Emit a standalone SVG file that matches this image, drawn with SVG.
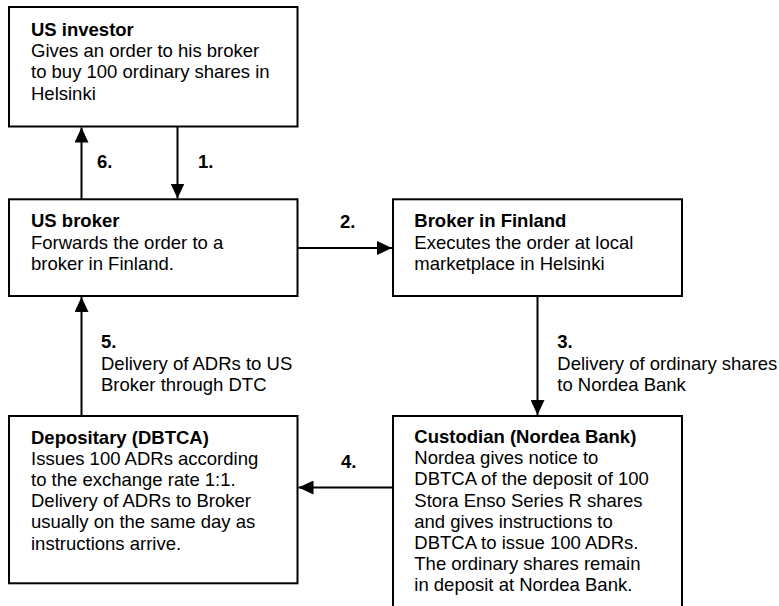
<svg xmlns="http://www.w3.org/2000/svg" width="779" height="606" viewBox="0 0 779 606">
<style>
.box{fill:#fff;stroke:#000;stroke-width:2}
.t{font-family:"Liberation Sans",Arial,sans-serif;font-size:18.5px;fill:#000}
.b{font-weight:bold}
.c{stroke:#000;stroke-width:2;fill:none;marker-end:url(#ah)}
</style>
<defs>
<marker id="ah" markerUnits="userSpaceOnUse" markerWidth="16" markerHeight="14" refX="15" refY="7" orient="auto">
<path d="M0,0 L15,7 L0,14 z" fill="#000"/>
</marker>
</defs>
<rect width="779" height="606" fill="#fff"/>
<g id="connectors">
<line class="c" x1="177.5" y1="126.5" x2="177.5" y2="198.5"/>
<line class="c" x1="81.5" y1="199.3" x2="81.5" y2="127.5"/>
<line class="c" x1="297.5" y1="248" x2="392" y2="248"/>
<line class="c" x1="537.5" y1="296" x2="537.5" y2="415"/>
<line class="c" x1="393" y1="487.5" x2="298.5" y2="487.5"/>
<line class="c" x1="81.5" y1="416" x2="81.5" y2="297"/>
<text class="t b" x="97" y="167.5">6.</text>
<text class="t b" x="198" y="167.5">1.</text>
<text class="t b" x="340" y="228">2.</text>
<text class="t b" x="557.3" y="348.3">3.</text>
<text class="t" x="557.3" y="369.5">Delivery of ordinary shares</text>
<text class="t" x="557.3" y="390.7">to Nordea Bank</text>
<text class="t b" x="341" y="467.5">4.</text>
<text class="t b" x="101" y="348.3">5.</text>
<text class="t" x="101" y="369.5">Delivery of ADRs to US</text>
<text class="t" x="101" y="390.7">Broker through DTC</text>
</g>
<g id="us-investor">
<rect class="box" x="9" y="7" width="288.5" height="119.5"/>
<text class="t b" x="31" y="36">US investor</text>
<text class="t" x="31" y="57.2">Gives an order to his broker</text>
<text class="t" x="31" y="78.4">to buy 100 ordinary shares in</text>
<text class="t" x="31" y="99.6">Helsinki</text>
</g>
<g id="us-broker">
<rect class="box" x="9" y="199.3" width="288.5" height="96.7"/>
<text class="t b" x="31" y="227.3">US broker</text>
<text class="t" x="31" y="248.5">Forwards the order to a</text>
<text class="t" x="31" y="269.7">broker in Finland.</text>
</g>
<g id="broker-finland">
<rect class="box" x="393" y="199.3" width="289" height="96.7"/>
<text class="t b" x="414.3" y="227.3">Broker in Finland</text>
<text class="t" x="414.3" y="248.5">Executes the order at local</text>
<text class="t" x="414.3" y="269.7">marketplace in Helsinki</text>
</g>
<g id="depositary">
<rect class="box" x="9" y="416" width="288.5" height="167.3"/>
<text class="t b" x="31" y="443.5">Depositary (DBTCA)</text>
<text class="t" x="31" y="464.7">Issues 100 ADRs according</text>
<text class="t" x="31" y="485.9">to the exchange rate 1:1.</text>
<text class="t" x="31" y="507.1">Delivery of ADRs to Broker</text>
<text class="t" x="31" y="528.3">usually on the same day as</text>
<text class="t" x="31" y="549.5">instructions arrive.</text>
</g>
<g id="custodian">
<rect class="box" x="393" y="416" width="289" height="196"/>
<text class="t b" x="414.3" y="443">Custodian (Nordea Bank)</text>
<text class="t" x="414.3" y="464.2">Nordea gives notice to</text>
<text class="t" x="414.3" y="485.4">DBTCA of the deposit of 100</text>
<text class="t" x="414.3" y="506.6">Stora Enso Series R shares</text>
<text class="t" x="414.3" y="527.8">and gives instructions to</text>
<text class="t" x="414.3" y="549">DBTCA to issue 100 ADRs.</text>
<text class="t" x="414.3" y="570.2">The ordinary shares remain</text>
<text class="t" x="414.3" y="591.4">in deposit at Nordea Bank.</text>
</g>
</svg>
